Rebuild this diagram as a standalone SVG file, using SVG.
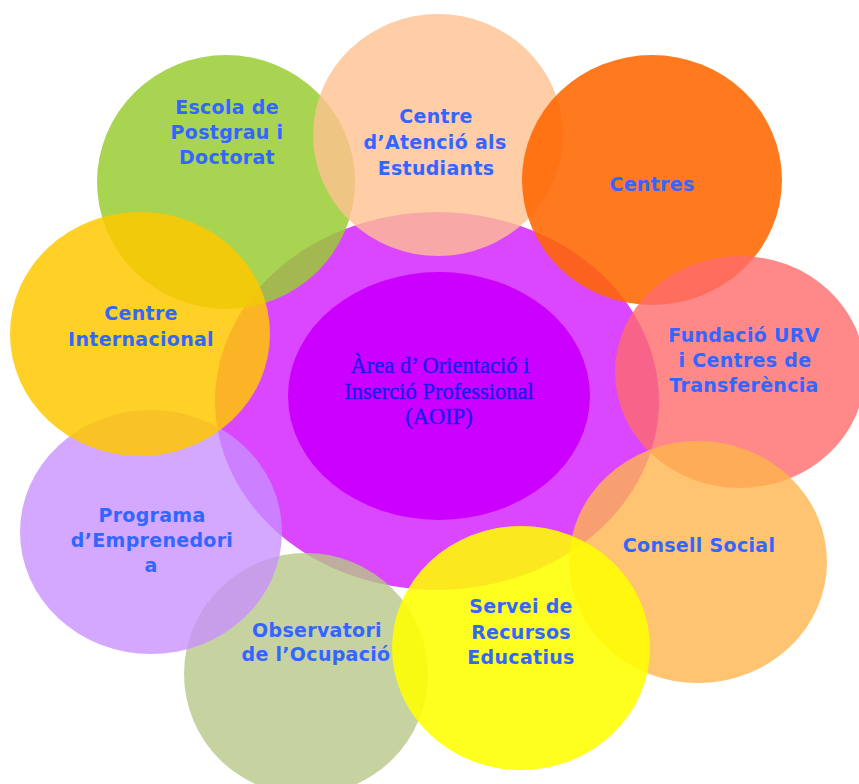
<svg xmlns="http://www.w3.org/2000/svg" width="859" height="784" viewBox="0 0 859 784">
<style>
.lbl{font-family:"DejaVu Sans",Verdana,sans-serif;font-weight:bold;font-size:19px;letter-spacing:0.3px;fill:#3366FF;text-anchor:middle}
.ctr{font-family:"Liberation Serif","Times New Roman",serif;font-size:22.5px;fill:#1A1AF0;stroke:#1A1AF0;stroke-width:0.35;text-anchor:middle}
</style>
<rect width="859" height="784" fill="#FFFFFF"/>
<g id="aoip-halo"><ellipse cx="437" cy="401" rx="222" ry="189" fill="#CC00FF" fill-opacity="0.72"/></g>
<g id="node-escola"><ellipse cx="226" cy="182" rx="129" ry="127" fill="#99CC33" fill-opacity="0.85"/>
<text class="lbl"><tspan x="227" y="114">Escola de</tspan><tspan x="227" y="139">Postgrau i</tspan><tspan x="227" y="164">Doctorat</tspan></text></g>
<g id="node-atencio"><ellipse cx="438" cy="135" rx="125" ry="121" fill="#FFC090" fill-opacity="0.8"/>
<text class="lbl"><tspan x="436" y="123">Centre</tspan><tspan x="435" y="149">d’Atenció als</tspan><tspan x="436" y="175">Estudiants</tspan></text></g>
<g id="node-centres"><ellipse cx="652" cy="180" rx="130" ry="125" fill="#FF6600" fill-opacity="0.88"/>
<text class="lbl"><tspan x="652" y="191">Centres</tspan></text></g>
<g id="node-fundacio"><ellipse cx="740" cy="372" rx="125" ry="116" fill="#FF6B6B" fill-opacity="0.8"/>
<text class="lbl"><tspan x="744" y="342">Fundació URV</tspan><tspan x="745" y="367">i Centres de</tspan><tspan x="744" y="392">Transferència</tspan></text></g>
<g id="node-consell"><ellipse cx="698" cy="562" rx="129" ry="121" fill="#FFB54D" fill-opacity="0.8"/>
<text class="lbl"><tspan x="699" y="552">Consell Social</tspan></text></g>
<g id="node-observatori"><ellipse cx="306" cy="674" rx="122" ry="121" fill="#B8C888" fill-opacity="0.8"/>
<text class="lbl"><tspan x="317" y="637">Observatori</tspan><tspan x="316" y="661">de l’Ocupació</tspan></text></g>
<g id="node-servei"><ellipse cx="521" cy="648" rx="129" ry="122" fill="#FFFF00" fill-opacity="0.88"/>
<text class="lbl"><tspan x="521" y="613">Servei de</tspan><tspan x="521" y="639">Recursos</tspan><tspan x="521" y="664">Educatius</tspan></text></g>
<g id="node-programa"><ellipse cx="151" cy="532" rx="131" ry="122" fill="#C890FF" fill-opacity="0.78"/>
<text class="lbl"><tspan x="152" y="522">Programa</tspan><tspan x="152" y="547">d’Emprenedori</tspan><tspan x="151" y="572">a</tspan></text></g>
<g id="node-internacional"><ellipse cx="140" cy="334" rx="130" ry="122" fill="#FFC800" fill-opacity="0.85"/>
<text class="lbl"><tspan x="141" y="320">Centre</tspan><tspan x="141" y="346">Internacional</tspan></text></g>
<g id="node-aoip"><ellipse cx="439" cy="396" rx="151" ry="124" fill="#CC00FF"/>
<text class="ctr"><tspan x="440" y="373">Àrea d’ Orientació i</tspan><tspan x="439" y="399">Inserció Professional</tspan><tspan x="439" y="424">(AOIP)</tspan></text></g>
<g id="connectors"/>
</svg>
